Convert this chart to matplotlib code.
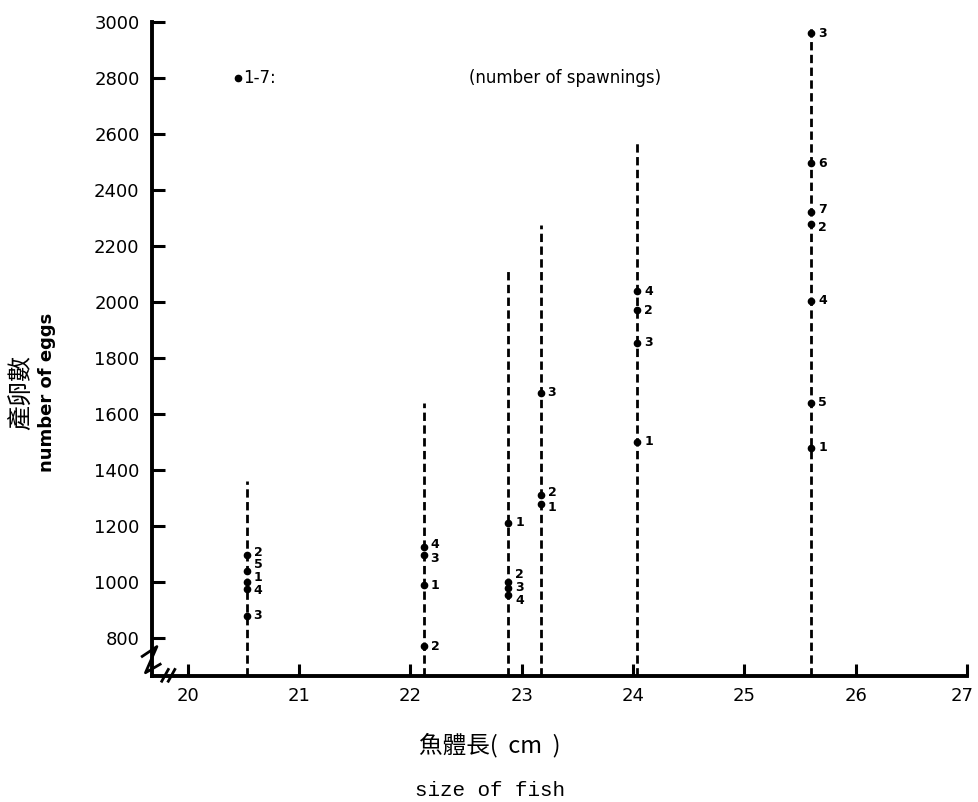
import matplotlib
matplotlib.use("Agg")
import matplotlib.pyplot as plt
import matplotlib.transforms as mtrans

plt.rcParams['font.family'] = ['DejaVu Sans', 'Noto Sans CJK TC']

# fish size (cm) of each female, top of the dashed line, and her spawnings
sizes = [20.53, 22.12, 22.88, 23.17, 24.04, 25.60]
line_tops = [1360, 1640, 2110, 2275, 2568, 2990]

eggs = [
    [1095, 1040, 1000, 975, 880],
    [1125, 1095, 989, 771],
    [1211, 1000, 979, 954],
    [1675, 1311, 1279],
    [2039, 1971, 1854, 1500],
    [2960, 2495, 2320, 2280, 2005, 1640, 1480],
]
spawn_no = [
    ["2", "5", "1", "4", "3"],
    ["4", "3", "1", "2"],
    ["1", "2", "3", "4"],
    ["3", "2", "1"],
    ["4", "2", "3", "1"],
    ["3", "6", "7", "2", "4", "5", "1"],
]

xticks = [20, 21, 22, 23, 24, 25, 26, 27]
yticks = [800, 1000, 1200, 1400, 1600, 1800, 2000, 2200, 2400, 2600, 2800, 3000]
ytick_labels = ["800", "1000", "1200", "1400", "1600", "1800", "2000",
                "2200", "2400", "2600", "2800", "3000"]

# small vertical shifts (points) so crowded labels don't sit on each other
nudge = {(0, "2"): 2, (0, "5"): 4.5, (0, "1"): 3.5, (0, "4"): -1,
         (1, "4"): 2, (1, "3"): -2.5,
         (2, "2"): 5, (2, "3"): 0.5, (2, "4"): -4,
         (3, "2"): 2, (3, "1"): -3, (5, "7"): 2, (5, "2"): -2.5}

fig = plt.figure(figsize=(9.79, 8.02), dpi=100)
ax = fig.add_axes([152/979, 126/802, 815/979, 654/802])

for i, x in enumerate(sizes):
    ax.plot([x, x], [664, line_tops[i]], color='black', lw=2,
            linestyle=(0, (3, 1.6)))
    ax.plot([x]*len(eggs[i]), eggs[i], 'o', color='black', ms=4.5)
    for v, lab in zip(eggs[i], spawn_no[i]):
        ax.annotate(lab, (x, v), xytext=(5, nudge.get((i, lab), 0)),
                    textcoords='offset points', va='center', ha='left',
                    fontsize=9, fontweight='bold')

# legend-like notes at the top
ax.plot([20.45], [2800], 'o', color='black', ms=4.5)
ax.text(20.5, 2800, "1-7:", fontsize=12, va='center', ha='left')
ax.text(22.53, 2800, "(number of spawnings)", fontsize=12, va='center', ha='left')

ax.set_xlim(19.68, 27.0)
ax.set_ylim(664, 3000)
ax.set_xticks(xticks)
ax.set_xticklabels([str(t) for t in xticks], fontsize=13)
ax.set_yticks(yticks)
ax.set_yticklabels(ytick_labels, fontsize=13)
ax.tick_params(axis='both', direction='in', length=9, width=2.2, pad=8)
ax.tick_params(axis='y', pad=9)

# keep the last x label inside the picture
last = ax.get_xticklabels()[-1]
last.set_transform(last.get_transform() +
                   mtrans.ScaledTranslation(-5/100, 0, fig.dpi_scale_trans))

for s in ['top', 'right']:
    ax.spines[s].set_visible(False)
for s in ['left', 'bottom']:
    ax.spines[s].set_linewidth(2.8)

# axis break marks
ax.plot([-0.012, 0.006, -0.008, 0.010], [0.03, 0.045, 0.005, 0.018],
        transform=ax.transAxes, color='black', lw=2, clip_on=False)
ax.plot([0.012, 0.020], [-0.008, 0.010], transform=ax.transAxes,
        color='black', lw=2, clip_on=False)
ax.plot([0.020, 0.028], [-0.008, 0.010], transform=ax.transAxes,
        color='black', lw=2, clip_on=False)

# axis titles
fig.text(21/979, 1 - 392/802, "產卵數", rotation=90, fontsize=18,
         family=['Noto Sans CJK TC'], va='center', ha='center')
fig.text(47/979, 1 - 392/802, "number of eggs", rotation=90, fontsize=13,
         fontweight='bold', va='center', ha='center')
fig.text(490/979, 1 - 745/802, "魚體長(  cm  )", fontsize=17,
         family=['Noto Sans CJK TC', 'DejaVu Sans'], va='center', ha='center')
fig.text(490/979, 1 - 790/802, "size of fish", fontsize=15,
         family=['Liberation Mono'], va='center', ha='center')

fig.savefig("out.png", dpi=100)
